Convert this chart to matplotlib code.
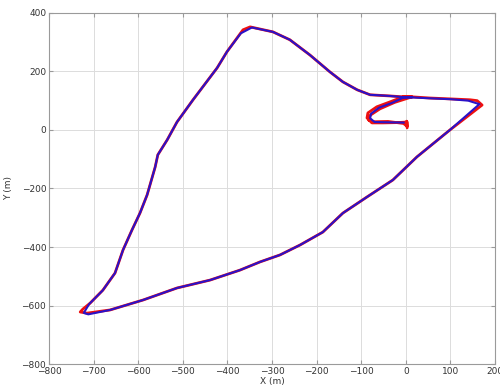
import matplotlib
matplotlib.use("Agg")
import matplotlib.pyplot as plt

# Reference trajectory (red) in metres
ref_x = [3, 3, -20, -51, -76, -87, -85, -65, -35, -6, 14, 54, 100, 144, 160, 171,
         99, 25, -29, -87, -141, -186, -237, -282, -327, -372, -439, -513, -589, -663, -715, -730,
         -724, -708, -679, -652, -634, -614, -596, -580, -562, -556, -535, -513, -477, -423, -401, -365, -349,
         -298, -260, -215, -170, -141, -109, -80, -35, -6, 14,
         -25, -58, -80, -83, -72, -40, -5, 3, 2]
ref_y = [7, 27, 25, 24, 24, 41, 58, 79, 96, 113, 113, 109, 106, 103, 100, 85,
         0, -92, -171, -229, -284, -349, -393, -427, -451, -479, -513, -540, -581, -615, -626, -622,
         -612, -592, -547, -489, -410, -342, -284, -222, -127, -85, -34, 27, 103, 212, 267, 342, 352,
         335, 308, 256, 198, 164, 137, 120, 116, 113, 113,
         94, 72, 50, 33, 28, 29, 22, 12, 30]

# Estimated trajectory (blue) in metres
est_x = [-5, -40, -70, -80, -78, -60, -30, -6, 14, 54, 100, 140, 165,
         99, 25, -29, -87, -141, -186, -237, -282, -327, -372, -439, -513, -589, -663, -712, -722,
         -710, -680, -652, -634, -614, -596, -580, -562, -556, -535, -513, -477, -423, -401, -370, -345,
         -298, -260, -215, -170, -141, -109, -80, -35, -6, 14]
est_y = [25, 26, 27, 40, 55, 76, 93, 110, 111, 108, 105, 100, 88,
         0, -92, -171, -229, -284, -349, -393, -427, -451, -479, -513, -540, -581, -615, -630, -625,
         -595, -549, -489, -410, -342, -284, -222, -127, -85, -34, 27, 103, 212, 267, 330, 350,
         335, 308, 256, 198, 164, 137, 120, 116, 112, 112]

x_ticks = [-800, -700, -600, -500, -400, -300, -200, -100, 0, 100, 200]
y_ticks = [-800, -600, -400, -200, 0, 200, 400]

fig = plt.figure(figsize=(5.0, 3.89), dpi=100)
ax = fig.add_axes([0.098, 0.064, 0.892, 0.903])

ax.plot(ref_x, ref_y, color="#ee1010", lw=2.0, solid_joinstyle="round", solid_capstyle="round")
ax.plot(est_x, est_y, color="#2a12c8", lw=1.5, solid_joinstyle="round")

ax.set_xlim(-800, 200)
ax.set_ylim(-800, 400)
ax.set_xticks(x_ticks)
ax.set_yticks(y_ticks)
ax.grid(True, color="#dcdcdc", lw=0.7)
ax.set_axisbelow(True)
for s in ax.spines.values():
    s.set_color("#9a9a9a")
    s.set_linewidth(0.8)
ax.tick_params(direction="in", length=3, color="#9a9a9a", labelsize=6.5,
               labelcolor="#333333", right=True, top=True, pad=2)
ax.set_xlabel("X (m)", fontsize=6.5, color="#333333", labelpad=1)
ax.set_ylabel("Y (m)", fontsize=6.5, color="#333333", labelpad=6)

fig.savefig("out.png", dpi=100)
